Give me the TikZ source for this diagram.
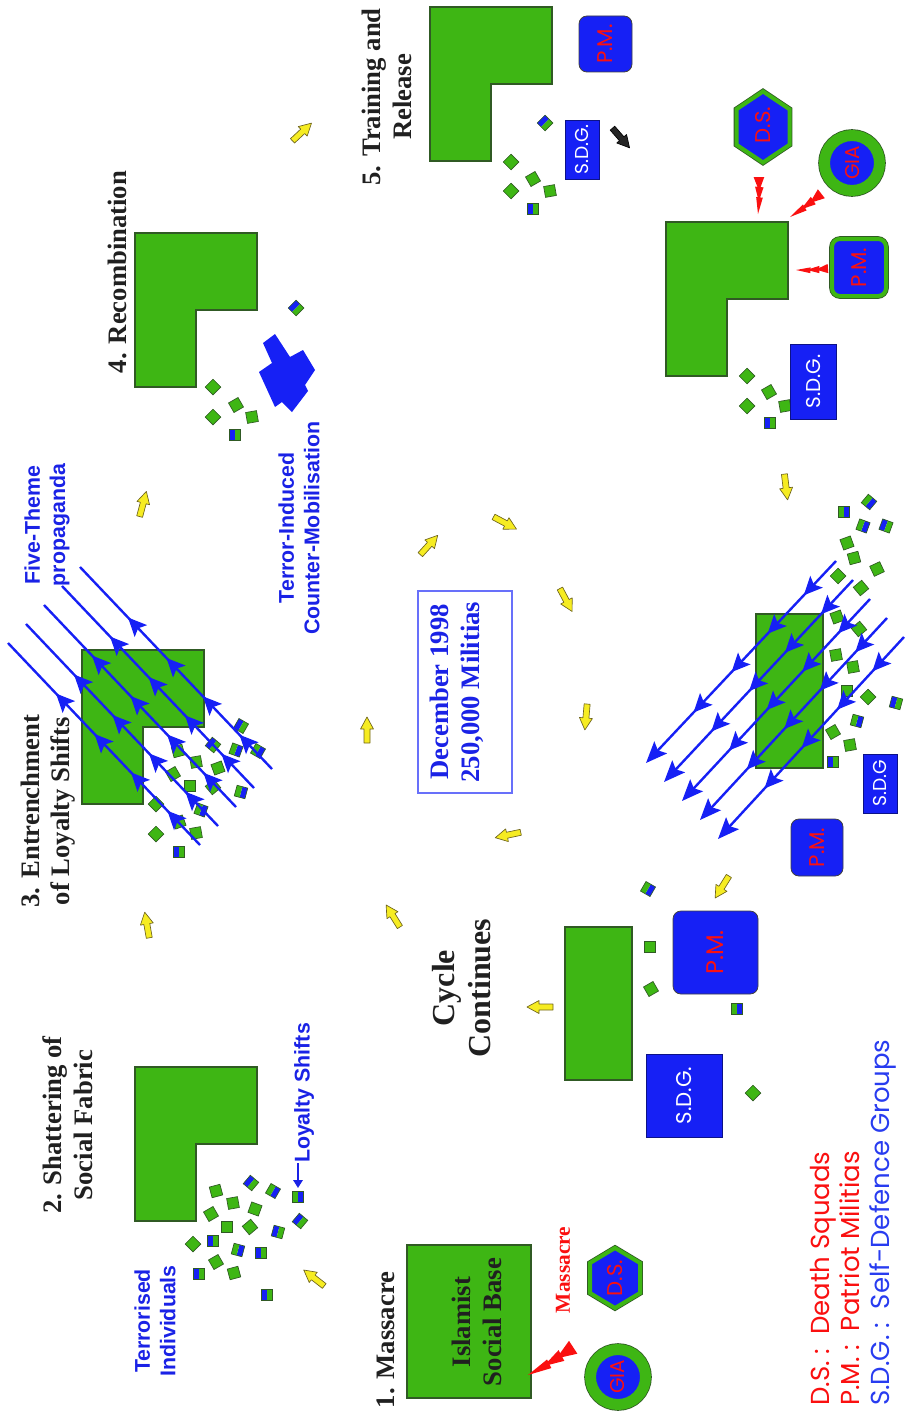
\documentclass[tikz,border=0pt]{standalone}
\usepackage{fontspec}
\setmainfont{Liberation Serif}
\newfontfamily\helv{Liberation Sans}
\newfontfamily\gothic{Poppins}
\usetikzlibrary{arrows.meta,decorations.markings}

\definecolor{gfill}{RGB}{62,182,20}
\definecolor{gline}{RGB}{48,90,36}
\definecolor{bfill}{RGB}{22,32,245}
\definecolor{btext}{RGB}{26,34,230}
\definecolor{ltblue}{RGB}{40,60,240}
\definecolor{rtext}{RGB}{250,16,16}
\definecolor{yfill}{RGB}{246,236,34}
\definecolor{yline}{RGB}{110,100,30}
\definecolor{boxline}{RGB}{104,112,250}
\definecolor{htext}{RGB}{32,32,32}

\tikzset{
  head/.style={font=\bfseries\fontsize{20}{23}\selectfont,text=htext,align=center,rotate=90,inner sep=0pt},
  note/.style={font=\helv\bfseries\fontsize{16}{19}\selectfont,text=btext,align=center,rotate=90,inner sep=0pt},
  tag/.style={font=\gothic\fontsize{#1}{#1}\selectfont,rotate=90,inner sep=0pt},
  tag/.default=16,
  gshape/.style={fill=gfill,draw=gline,line width=0.8pt},
  pmbox/.style={rectangle,rounded corners=6pt,fill=bfill,draw=black!75,line width=0.6pt,text=rtext},
  sdgbox/.style={rectangle,fill=bfill,draw=bfill!55!black,line width=0.6pt,text=white},
  ring/.style={draw=gfill,line width=#1,preaction={draw=gline,line width=#1+1.2pt}},
  hexline/.style={fill=bfill,ring=3pt},
  sqline/.style={draw=gline,line width=0.5pt},
  yarrow/.style={fill=yfill,draw=yline,line width=0.5pt,line join=round},
  darrow/.style={fill=black!85,draw=black,line width=0.5pt,line join=round},
  phead/.code={\fill[bfill] (2pt,0pt) -- (-12pt,6.5pt) -- (-9pt,0pt) -- (-12pt,-6.5pt) -- cycle;},
  propl/.style={draw=bfill,line width=1.8pt,postaction={decorate},
    decoration={markings,
      mark=at position 0.16 with {\pgfkeys{/tikz/phead}},
      mark=at position 0.35 with {\pgfkeys{/tikz/phead}},
      mark=at position 0.54 with {\pgfkeys{/tikz/phead}},
      mark=at position 0.74 with {\pgfkeys{/tikz/phead}}}},
  pics/lbase/.style={code={\path[gshape] (0,0) -- (122,0) -- (122,77) -- (61,77) -- (61,154) -- (0,154) -- cycle;}},
  pics/gsq/.style={code={\path[sqline,fill=gfill] (-5.5,-5.5) rectangle (5.5,5.5);}},
  pics/bsq/.style={code={\fill[bfill] (-5.5,-5.5) rectangle (0,5.5);
    \fill[gfill] (0,-5.5) rectangle (5.5,5.5);
    \draw[sqline] (-5.5,-5.5) rectangle (5.5,5.5);}},
  pics/yarr/.style={code={\path[#1] (-13,-3) -- (1,-3) -- (1,-6.5) -- (13,0) -- (1,6.5) -- (1,3) -- (-13,3) -- cycle;}},
  pics/yarr/.default=yarrow,
  pics/bolt/.style={code={\fill[rtext] (0,0) -- (0.46,-0.05) -- (0.44,0.13) -- cycle;
    \fill[rtext] (0.34,0.02) -- (0.74,-0.08) -- (0.72,0.15) -- cycle;
    \fill[rtext] (0.62,0.03) -- (1,-0.12) -- (1,0.17) -- cycle;}},
  pics/hexa/.style args={#1/#2}{code={\path[hexline] (0,-#1) -- (#2,-#1/2) -- (#2,#1/2) -- (0,#1) -- (-#2,#1/2) -- (-#2,-#1/2) -- cycle;}},
}

\begin{document}
\begin{tikzpicture}[x=0.75pt,y=-0.75pt]
  \useasboundingbox (0,0) rectangle (905,1413);

  % social base shapes
  \pic (lb2) at (135,1067) {lbase};
  \pic (lb3) at (82,650) {lbase};
  \pic (lb4) at (135,233) {lbase};
  \pic (lb5) at (430,7) {lbase};
  \pic (lb6) at (666,222) {lbase};
  \path[gshape] (407,1245) rectangle (531,1398);
  \path[gshape] (565,927) rectangle (632,1080);
  \path[gshape] (756,614) rectangle (823,768);

  % individuals
  \foreach \x/\y/\a in {216/1191/15, 233/1203/10, 211/1214/30, 255/1209/-20, 227/1227/0, 250/1227/40,
      193/1244/45, 216/1262/30, 234/1273/15,
      178/751/15, 196/762/10, 173/774/30, 190/786/0, 218/768/20, 213/787/40, 156/804/45, 179/822/20,
      196/833/10, 156/834/45,
      213/387/45, 236/405/30, 213/417/45, 252/417/10,
      511/162/45, 533/179/30, 511/191/45, 550/191/10,
      747/376/45, 769/392/30, 747/406/45, 785/406/10,
      847/543/20, 854/558/15, 877/569/25, 838/576/45, 861/588/40, 837/617/20, 859/629/40, 836/655/10,
      853/667/10, 847/691/0, 868/697/45, 833/732/30, 850/745/10,
      650/947/0, 651/989/30, 753/1093/45}
    \pic[rotate=\a] at (\x,\y) {gsq};
  \foreach \x/\y/\a in {251/1183/-40, 273/1191/150, 298/1197/180, 300/1221/-40, 278/1232/-15, 213/1241/0,
      238/1250/165, 261/1253/0, 199/1274/0, 267/1295/0,
      241/726/-30, 213/745/-40, 236/750/160, 258/751/150, 241/792/165, 201/810/160, 179/852/0,
      235/435/0, 296/308/-45, 545/123/-45, 533/209/0, 770/423/0,
      869/502/140, 844/512/180, 863/526/160, 886/526/-20, 896/703/-15, 857/721/165, 833/762/0,
      648/889/150, 737/1009/180}
    \pic[rotate=\a] at (\x,\y) {bsq};

  % counter-mobilisation
  \fill[bfill] (275,334) -- (290,357) -- (303,350) -- (315,370) -- (305,385) -- (308,391) -- (292,412)
    -- (282,402) -- (275,407) -- (259,372) -- (272,363) -- (263,343) -- cycle;

  % propaganda
  \foreach \i in {0,...,4}
    \draw[propl] ({200+18*\i},{845-19*\i}) -- ({8+18*\i},{643-19*\i});
  \foreach \i in {0,...,4}
    \draw[propl,-{Stealth[length=16pt,width=13pt,inset=3pt]}] ({836+17*\i},{561+19*\i}) -- ({646+18*\i},{763+19*\i});

  % cycle arrows
  \foreach \x/\y/\a in {302/132/43, 143/504/75, 147/925/100, 314/1278/142, 393/916/122, 508/835/192,
      586/717/265, 566/600/-62, 505/523/-28, 429/545/48, 367/730/90, 540/1007/180, 722/887/238, 786/487/-83}
    \pic[rotate=\a] at (\x,\y) {yarr};
  \pic[rotate=-49] at (621,138) {yarr=darrow};

  % strikes
  \foreach \x/\y/\a/\l in {528/1375/33/53, 758/214/90/37, 790/217/38/39, 796/270/4/32}
    \pic[rotate=\a,scale=\l] at (\x,\y) {bolt};

  % armed groups
  \pic at (615,1278) {hexa=30/25};
  \node[tag,text=rtext] (ds1) at (615,1278) {D.S.};
  \pic at (763,127) {hexa=35.5/26.5};
  \node[tag,text=rtext] (ds2) at (763,125) {D.S.};
  \node[circle,fill=bfill,ring=8.25pt,minimum size=41.25pt,tag=15,text=rtext] (gia1) at (618,1377) {GIA};
  \node[circle,fill=bfill,ring=8.25pt,minimum size=41.25pt,tag=15,text=rtext] (gia2) at (852,163) {GIA};
  \node[pmbox,tag=18,minimum width=62.25pt,minimum height=63.75pt] (pm1) at (715.5,952.5) {P.M.};
  \node[pmbox,tag=16,minimum width=42.75pt,minimum height=39pt] (pm2) at (817,847.5) {P.M.};
  \node[pmbox,tag=16,minimum width=42pt,minimum height=39.75pt] (pm3) at (605.5,44) {P.M.};
  \node[pmbox,ring=3pt,tag=16,minimum width=42.75pt,minimum height=40.5pt] (pm4) at (859,267.5) {P.M.};
  \node[sdgbox,tag=16,minimum width=62.25pt,minimum height=57pt] (sdg1) at (684,1095.5) {S.D.G.};
  \node[sdgbox,tag=14,minimum width=44.25pt,minimum height=25.5pt] (sdg2) at (880,783.5) {S.D.G};
  \node[sdgbox,tag=14,minimum width=44.25pt,minimum height=25.5pt] (sdg3) at (582,149.5) {S.D.G.};
  \node[sdgbox,tag=15,minimum width=56.25pt,minimum height=34.5pt] (sdg4) at (813,381.5) {S.D.G.};

  % headings
  \node[head] (h1) at (386,1340) {1. Massacre};
  \node[head] (h2) at (68,1125) {2. Shattering of\\Social Fabric};
  \node[head] (h3) at (48,811) {3. Entrenchment\\of Loyalty Shifts};
  \node[head] (h4) at (117,272) {4. Recombination};
  \node[head] (h5) at (387,97) {5. Training and\\Release};
  \node[head,font=\bfseries\fontsize{24}{27}\selectfont] (cyc) at (462,988) {Cycle\\Continues};
  \node[head] (base) at (477,1322) {Islamist\\Social Base};
  \node[head,text=rtext,font=\bfseries\fontsize{16}{18}\selectfont] (mas) at (563,1270) {Massacre};

  % date box
  \node[draw=boxline,line width=0.8pt,minimum width=70.5pt,minimum height=151.5pt] (decbox) at (465,692) {};
  \node[head,text=btext] (dectext) at (457,692) {December 1998\\250,000 Militias};

  % blue notes
  \node[note] (loyal) at (304,1093) {Loyalty Shifts};
  \coordinate (lsq) at (298,1188);
  \draw[btext,line width=2pt,-{Triangle[length=6pt,width=7pt]}] (loyal.west -| lsq) -- (lsq);
  \node[note] (terr) at (155,1321) {Terrorised\\Individuals};
  \node[note] (five) at (47,525) {Five-Theme\\propaganda};
  \node[note] (tic) at (299,528) {Terror-Induced\\Counter-Mobilisation};

  % legend
  \node[tag=19,align=left,anchor=north west,font=\gothic\fontsize{19.5}{22.5}\selectfont] (legend) at (810,1406)
    {\textcolor{rtext}{D.S. :\ \ Death Squads}\\ \textcolor{rtext}{P.M. :\ \ Patriot Militias}\\
     \textcolor{ltblue}{S.D.G. :\ \ Self-Defence Groups}};
\end{tikzpicture}
\end{document}
